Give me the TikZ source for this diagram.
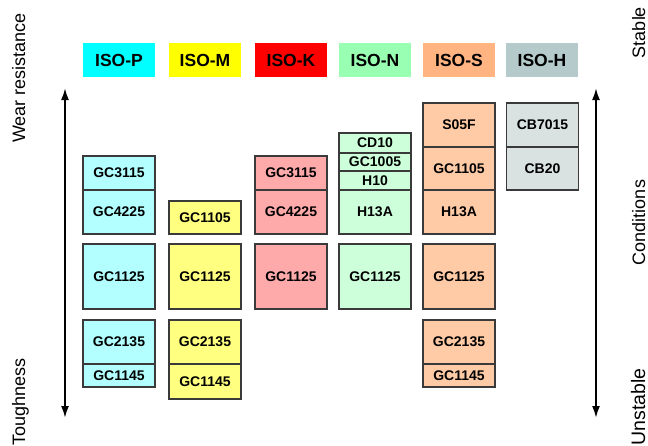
\documentclass[tikz,border=0pt]{standalone}
\usepackage{fontspec}
\setmainfont{Liberation Sans}
\usetikzlibrary{arrows.meta}

% Header colours for the ISO material groups
\definecolor{isoP}{HTML}{00FFFF}
\definecolor{isoM}{HTML}{FFFF00}
\definecolor{isoK}{HTML}{FF0000}
\definecolor{isoN}{HTML}{99FFB3}
\definecolor{isoS}{HTML}{FFB482}
\definecolor{isoH}{HTML}{B5CACA}
% Lighter shades for the grade cells
\definecolor{cellP}{HTML}{B3FFFF}
\definecolor{cellM}{HTML}{FFFF80}
\definecolor{cellK}{HTML}{FFAAAA}
\definecolor{cellN}{HTML}{CCFFDA}
\definecolor{cellS}{HTML}{FFCBA6}
\definecolor{cellH}{HTML}{DAE1E1}
\definecolor{edge}{HTML}{3A3A3A}

\tikzset{
  header/.style={minimum width=72pt, minimum height=34pt, inner sep=0pt,
                 font=\fontsize{17.5}{18}\selectfont\bfseries},
  cell/.style={draw=edge, line width=1.3pt, minimum width=72pt, inner sep=0pt,
               font=\fontsize{14}{14}\selectfont\bfseries},
  sidelabel/.style={rotate=90, inner sep=0pt, font=\fontsize{18}{18}\selectfont},
  axis/.style={line width=2pt, {Latex[length=12pt,width=8pt]}-{Latex[length=12pt,width=8pt]}}
}

\begin{document}
\begin{tikzpicture}[x=1pt, y=-1pt]
  \useasboundingbox (0,0) rectangle (648,445);

  % Material group headers
  \node[header, fill=isoP] (hP) at (119,60) {ISO-P};
  \node[header, fill=isoM] (hM) at (205,60) {ISO-M};
  \node[header, fill=isoK] (hK) at (291,60) {ISO-K};
  \node[header, fill=isoN] (hN) at (375,60) {ISO-N};
  \node[header, fill=isoS] (hS) at (459,60) {ISO-S};
  \node[header, fill=isoH] (hH) at (542,60) {ISO-H};

  % ISO-P grades
  \node[cell, fill=cellP, minimum height=34pt] (p3115) at (119,173)   {GC3115};
  \node[cell, fill=cellP, minimum height=44pt] (p4225) at (119,212)   {GC4225};
  \node[cell, fill=cellP, minimum height=65pt] (p1125) at (119,276.5) {GC1125};
  \node[cell, fill=cellP, minimum height=44pt] (p2135) at (119,342)   {GC2135};
  \node[cell, fill=cellP, minimum height=23pt] (p1145) at (119,375.5) {GC1145};

  % ISO-M grades
  \node[cell, fill=cellM, minimum height=33pt] (m1105) at (205,217.5) {GC1105};
  \node[cell, fill=cellM, minimum height=65pt] (m1125) at (205,276.5) {GC1125};
  \node[cell, fill=cellM, minimum height=44pt] (m2135) at (205,342)   {GC2135};
  \node[cell, fill=cellM, minimum height=35pt] (m1145) at (205,381.5) {GC1145};

  % ISO-K grades
  \node[cell, fill=cellK, minimum height=34pt] (k3115) at (291,173)   {GC3115};
  \node[cell, fill=cellK, minimum height=44pt] (k4225) at (291,212)   {GC4225};
  \node[cell, fill=cellK, minimum height=65pt] (k1125) at (291,276.5) {GC1125};

  % ISO-N grades
  \node[cell, fill=cellN, minimum height=20pt] (ncd10) at (375,143)   {CD10};
  \node[cell, fill=cellN, minimum height=18pt] (n1005) at (375,162)   {GC1005};
  \node[cell, fill=cellN, minimum height=19pt] (nh10)  at (375,180.5) {H10};
  \node[cell, fill=cellN, minimum height=44pt] (nh13a) at (375,212)   {H13A};
  \node[cell, fill=cellN, minimum height=65pt] (n1125) at (375,276.5) {GC1125};

  % ISO-S grades
  \node[cell, fill=cellS, minimum height=44pt] (ss05f) at (459,125)   {S05F};
  \node[cell, fill=cellS, minimum height=43pt] (s1105) at (459,168.5) {GC1105};
  \node[cell, fill=cellS, minimum height=44pt] (sh13a) at (459,212)   {H13A};
  \node[cell, fill=cellS, minimum height=65pt] (s1125) at (459,276.5) {GC1125};
  \node[cell, fill=cellS, minimum height=44pt] (s2135) at (459,342)   {GC2135};
  \node[cell, fill=cellS, minimum height=23pt] (s1145) at (459,375.5) {GC1145};

  % ISO-H grades
  \node[cell, fill=cellH, minimum height=44pt] (h7015) at (542.5,125)   {CB7015};
  \node[cell, fill=cellH, minimum height=43pt] (hcb20) at (542.5,168.5) {CB20};

  % Vertical scales
  \coordinate (lefttop) at (65,88);
  \coordinate (leftbot) at (65,418);
  \coordinate (righttop) at (596,88);
  \coordinate (rightbot) at (596,418);
  \draw[axis] (leftbot) -- (lefttop);
  \draw[axis] (rightbot) -- (righttop);

  % Scale labels
  \node[sidelabel, anchor=base] (wear)  at (25,78)   {Wear resistance};
  \node[sidelabel, anchor=base east] (tough) at (25,358) {Toughness};
  \node[sidelabel, anchor=base] (stable) at (645,32.5) {Stable};
  \node[sidelabel, anchor=base] (cond)   at (645,222.5) {Conditions};
  \node[sidelabel, anchor=base east, font=\fontsize{19.5}{20}\selectfont] (unstable) at (645,368) {Unstable};
\end{tikzpicture}
\end{document}
